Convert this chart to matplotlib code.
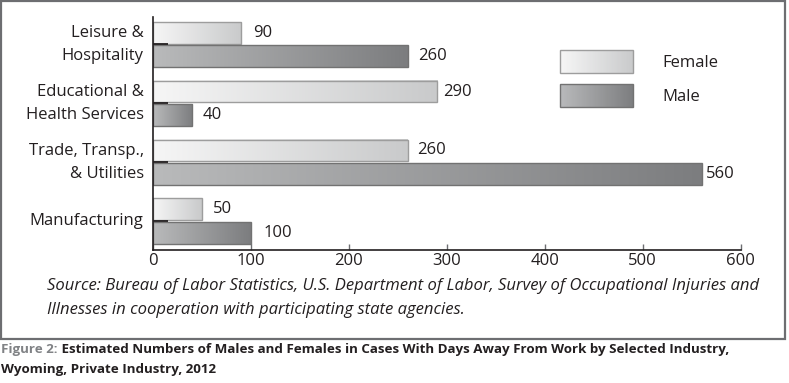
import matplotlib
matplotlib.use("Agg")
import matplotlib.pyplot as plt
import numpy as np
from matplotlib.patches import Rectangle
from matplotlib.legend_handler import HandlerBase
from matplotlib.colors import LinearSegmentedColormap, to_rgb

# ---------------- data ----------------
categories = ["Manufacturing", "Trade, Transp.,\n& Utilities",
              "Educational &\nHealth Services", "Leisure &\nHospitality"]
female = [50, 260, 290, 90]
male = [100, 560, 40, 260]
series_names = ["Female", "Male"]
xticks = [0, 100, 200, 300, 400, 500, 600]
source_text = ("Source: Bureau of Labor Statistics, U.S. Department of Labor, Survey of Occupational Injuries and\n"
               "Illnesses in cooperation with participating state agencies.")
caption_lead = "Figure 2:"
caption_line1 = "Estimated Numbers of Males and Females in Cases With Days Away From Work by Selected Industry,"
caption_line2 = "Wyoming, Private Industry, 2012"

# label gaps (pixels) between bar end and value label
female_gap_px = [11, 10, 6, 12]
male_gap_px = [13, 4, 11, 11]

# ---------------- style ----------------
plt.rcParams['font.family'] = ['Open Sans', 'DejaVu Sans']
FS = 12
CFS = 9.6
W, H = 789, 383
fem_c0, fem_c1, fem_edge = "#f6f6f6", "#c9cacb", "#9d9d9d"
male_c0, male_c1, male_edge = "#b9babb", "#7c7d7f", "#727272"
fem_cmap = LinearSegmentedColormap.from_list("fem", [fem_c0, fem_c1])
male_cmap = LinearSegmentedColormap.from_list("male", [male_c0, male_c1])
grad = np.linspace(0, 1, 256).reshape(1, -1)

fig = plt.figure(figsize=(W / 100, H / 100), dpi=100)
ax = fig.add_axes([152.7 / W, 133 / H, 588 / W, 233.3 / H])

y = np.arange(len(categories))
h = 0.37
off = 0.2

fem_bars = ax.barh(y + off, female, height=h, facecolor='none',
                   edgecolor=fem_edge, linewidth=1.0, zorder=1.2)
male_bars = ax.barh(y - off, male, height=h, facecolor='none',
                    edgecolor=male_edge, linewidth=1.0, zorder=1.2)


def fill_gradient(bars, cmap):
    for r in bars:
        x0, y0 = r.get_x(), r.get_y()
        w, hh = r.get_width(), r.get_height()
        ax.imshow(grad, extent=(x0, x0 + w, y0, y0 + hh), cmap=cmap,
                  aspect='auto', interpolation='bilinear', zorder=1.0)


fill_gradient(fem_bars, fem_cmap)
fill_gradient(male_bars, male_cmap)

# value labels
for bars, vals, gaps in ((fem_bars, female, female_gap_px), (male_bars, male, male_gap_px)):
    for r, v, g in zip(bars, vals, gaps):
        ax.annotate(str(v), xy=(r.get_x() + r.get_width(), r.get_y() + r.get_height() / 2),
                    xytext=(g * 0.72, 0), textcoords='offset points',
                    ha='left', va='center', fontsize=FS, color='#231f20')

ax.set_xlim(0, 600)
ax.set_ylim(-0.49, 3.47)
ax.set_xticks(xticks)
ax.set_xticklabels([str(t) for t in xticks], fontsize=FS, color='#231f20')
ax.set_yticks(y)
ax.set_yticklabels(categories, fontsize=FS, color='#231f20', linespacing=1.6,
                   va='center')
ax.tick_params(axis='x', direction='in', length=4.5, width=1.0, color='#6d6e71', pad=2)
ax.tick_params(axis='y', direction='in', length=10.5, width=1.3, color='#231f20', pad=6.5)
for s in ['top', 'right']:
    ax.spines[s].set_visible(False)
for s in ['left', 'bottom']:
    ax.spines[s].set_linewidth(1.2)
    ax.spines[s].set_color('#231f20')
ax.patch.set_visible(False)


# ---------------- legend with gradient handles ----------------
class GradHandler(HandlerBase):
    def __init__(self, c0, c1, ec):
        super().__init__()
        self.c0, self.c1, self.ec = np.array(to_rgb(c0)), np.array(to_rgb(c1)), ec

    def create_artists(self, legend, orig_handle, xdescent, ydescent,
                       width, height, fontsize, trans):
        arts = []
        n = 60
        for i in range(n):
            t = (i + 0.5) / n
            c = self.c0 * (1 - t) + self.c1 * t
            arts.append(Rectangle((-xdescent + i * width / n, -ydescent),
                                  width / n * 1.05, height, facecolor=c,
                                  edgecolor='none', transform=trans))
        arts.append(Rectangle((-xdescent, -ydescent), width, height,
                              facecolor='none', edgecolor=self.ec, lw=1.0,
                              transform=trans))
        return arts


hf = Rectangle((0, 0), 1, 1)
hm = Rectangle((0, 0), 1, 1)
fs_px = FS * 100 / 72
# matplotlib: drawn handle height = fontsize*(0.65*handleheight + 0.245)
hh_target = 23 / fs_px
handleheight = (hh_target - 0.245) / 0.65
leg = ax.legend([hf, hm], series_names,
                handler_map={hf: GradHandler(fem_c0, fem_c1, fem_edge),
                             hm: GradHandler(male_c0, male_c1, male_edge)},
                loc='upper left', bbox_to_anchor=(560 / W, 1 - 50 / H),
                bbox_transform=fig.transFigure, frameon=False, fontsize=FS,
                borderpad=0, borderaxespad=0,
                handlelength=73 / fs_px, handleheight=handleheight,
                handletextpad=29 / fs_px, labelspacing=11 / fs_px)
for t in leg.get_texts():
    t.set_color('#231f20')

# ---------------- source, frame, caption ----------------
fig.text(47 / W, 1 - 298 / H, source_text, fontsize=FS, style='italic',
         ha='left', va='center', color='#231f20', linespacing=1.72)

fig.patches.append(Rectangle((1 / W, 44 / H), 784 / W, (H - 45) / H,
                             transform=fig.transFigure, facecolor='none',
                             edgecolor='#6d6e71', lw=1.6, zorder=0))

t1 = fig.text(1 / W, 1 - 349 / H, caption_lead, fontsize=CFS, weight='bold',
              color='#808285', ha='left', va='center')
ax.annotate(" " + caption_line1, xy=(1, 0), xycoords=t1, fontsize=CFS,
            weight='bold', color='#231f20', ha='left', va='bottom',
            annotation_clip=False)
fig.text(1 / W, 1 - 370 / H, caption_line2, fontsize=CFS, weight='bold',
         color='#231f20', ha='left', va='center')

fig.savefig("out.png", dpi=100)
